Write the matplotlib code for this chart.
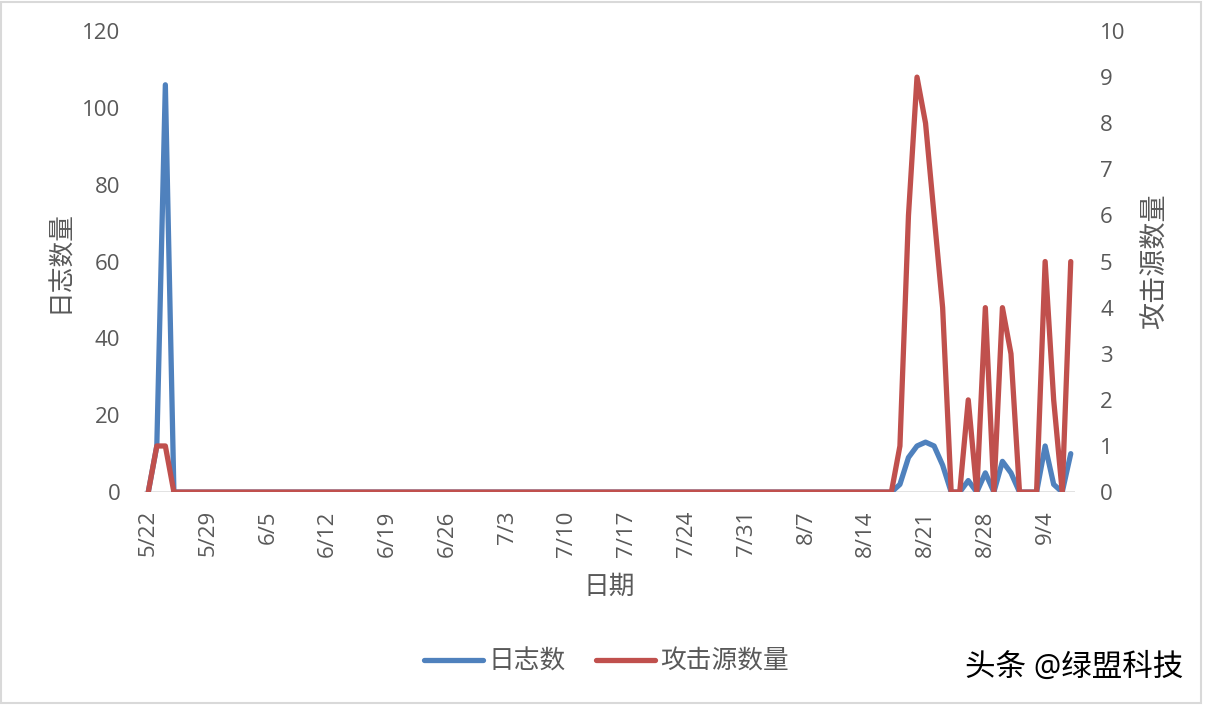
import matplotlib
matplotlib.use('Agg')
import matplotlib.pyplot as plt
from matplotlib.patches import Rectangle

plt.rcParams['font.family'] = ['Open Sans', 'Noto Sans CJK SC', 'DejaVu Sans']

# daily values, 5/22 .. 9/7 (109 days)
log_counts = [
    0, 12, 106, 0, 0, 0, 0, 0, 0, 0, 0, 0, 0, 0, 0, 0, 0, 0, 0, 0,
    0, 0, 0, 0, 0, 0, 0, 0, 0, 0, 0, 0, 0, 0, 0, 0, 0, 0, 0, 0,
    0, 0, 0, 0, 0, 0, 0, 0, 0, 0, 0, 0, 0, 0, 0, 0, 0, 0, 0, 0,
    0, 0, 0, 0, 0, 0, 0, 0, 0, 0, 0, 0, 0, 0, 0, 0, 0, 0, 0, 0,
    0, 0, 0, 0, 0, 0, 0, 0,
    2, 9, 12, 13, 12, 7, 0, 0, 3, 0, 5, 0, 8, 5, 0, 0, 0, 12, 2, 0, 10,
]
attack_sources = [
    0, 1, 1, 0, 0, 0, 0, 0, 0, 0, 0, 0, 0, 0, 0, 0, 0, 0, 0, 0,
    0, 0, 0, 0, 0, 0, 0, 0, 0, 0, 0, 0, 0, 0, 0, 0, 0, 0, 0, 0,
    0, 0, 0, 0, 0, 0, 0, 0, 0, 0, 0, 0, 0, 0, 0, 0, 0, 0, 0, 0,
    0, 0, 0, 0, 0, 0, 0, 0, 0, 0, 0, 0, 0, 0, 0, 0, 0, 0, 0, 0,
    0, 0, 0, 0, 0, 0, 0, 0,
    1, 6, 9, 8, 6, 4, 0, 0, 2, 0, 4, 0, 4, 3, 0, 0, 0, 5, 2, 0, 5,
]
tick_labels = ['5/22', '5/29', '6/5', '6/12', '6/19', '6/26', '7/3', '7/10',
               '7/17', '7/24', '7/31', '8/7', '8/14', '8/21', '8/28', '9/4']

days = list(range(len(log_counts)))
tick_pos = list(range(0, len(tick_labels) * 7, 7))

grey = '#595959'
blue = '#4F81BD'
red = '#C0504D'

fig = plt.figure(figsize=(12.06, 7.05), dpi=100)
fig.patches.append(Rectangle((0.001, 0.003), 0.995, 0.994, transform=fig.transFigure,
                             fill=False, edgecolor='#d9d9d9', lw=1.5))

ax = fig.add_axes([0.1194, 0.302, 0.772, 0.654])
ax2 = ax.twinx()

l1, = ax.plot(days, log_counts, color=blue, lw=3.8, solid_joinstyle='round',
              solid_capstyle='round', label='日志数', zorder=3)
l2, = ax2.plot(days, attack_sources, color=red, lw=3.8, solid_joinstyle='round',
               solid_capstyle='round', label='攻击源数量', zorder=3)
ax.axhline(0, color='#d9d9d9', lw=1.8, zorder=1)

ax.set_xlim(-0.5, len(days) - 0.5)
ax.set_ylim(0, 120)
ax2.set_ylim(0, 10)
ax.set_yticks(range(0, 121, 20))
ax2.set_yticks(range(0, 11))
ax.set_xticks(tick_pos)
ax.set_xticklabels(tick_labels, rotation=90)

for a in (ax, ax2):
    for s in a.spines.values():
        s.set_visible(False)
    a.tick_params(length=0, labelsize=16, labelcolor=grey)
ax.tick_params(axis='y', pad=17)
ax2.tick_params(axis='y', pad=18)
ax.tick_params(axis='x', pad=13)

ax.set_ylabel('日志数量', fontsize=18.5, color=grey, va='center')
ax.yaxis.set_label_coords(-0.090, 0.5)
ax2.set_ylabel('攻击源数量', fontsize=19.5, color=grey, va='center', rotation=90)
ax2.yaxis.set_label_coords(1.086, 0.5)
ax.set_xlabel('日期', fontsize=18.5, color=grey, va='center')
ax.xaxis.set_label_coords(0.5, -0.206)

leg = fig.legend(handles=[l1, l2], loc='center', bbox_to_anchor=(0.503, 0.061),
                 ncol=2, frameon=False, fontsize=18.5, handlelength=2.3,
                 handletextpad=0.2, columnspacing=1.2)
for t in leg.get_texts():
    t.set_color(grey)

fig.text(0.800, 0.052, '头条 @绿盟科技', fontsize=22, color='black', va='center')

fig.savefig('out.png', dpi=100)
